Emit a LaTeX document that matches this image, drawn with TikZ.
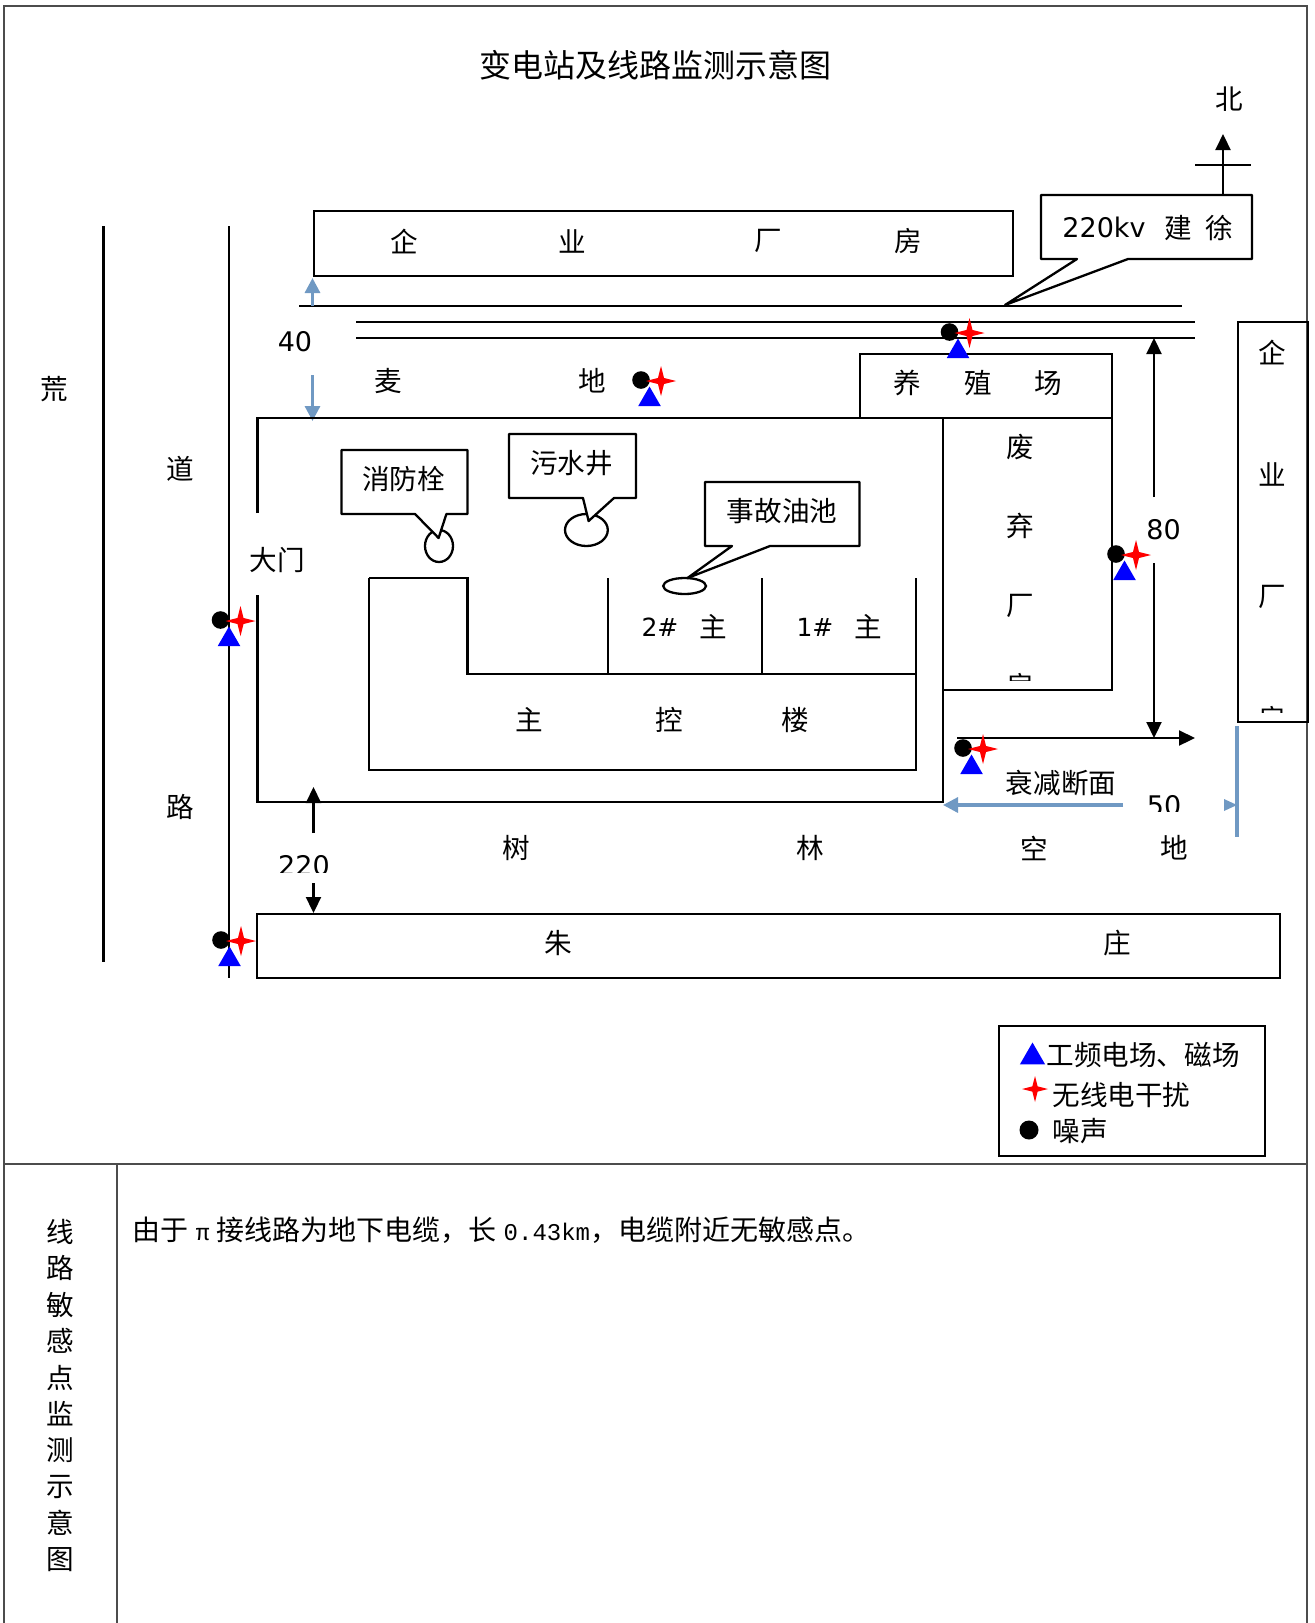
\documentclass[tikz,border=0pt]{standalone}
\usepackage{fontspec}
\setmainfont{Noto Sans CJK SC}
\newfontfamily\latinfont{DejaVu Sans}
\newfontfamily\monofont{Liberation Mono}
\usetikzlibrary{shapes.geometric}
\usetikzlibrary{positioning}
\usetikzlibrary{arrows.meta}
\definecolor{dimblue}{HTML}{7099C3}
\tikzstyle{cjk} = [inner sep=0pt, font=\fontsize{13.8}{16}\selectfont]
\tikzstyle{num} = [inner sep=0pt, font=\latinfont\fontsize{13.5}{16}\selectfont]
\tikzstyle{wall} = [draw, black, line width=1.15pt]
\tikzstyle{building} = [rectangle, draw, black, line width=1.15pt, inner sep=0pt, outer sep=0pt]
\tikzstyle{callbox} = [rectangle, inner sep=0pt, outer sep=0pt]
\tikzstyle{callout} = [draw, black, line width=1.15pt, fill=white, line join=round]
\tikzstyle{pit} = [ellipse, draw, black, line width=1.15pt, inner sep=0pt, fill=white]
\tikzstyle{frame} = [draw, black!70, line width=0.8pt]
\tikzstyle{dim arrow} = [black, line width=1.1pt, -{Triangle[length=8pt,width=7.5pt]}]
\tikzstyle{blue arrow} = [dimblue, line width=1.6pt, -{Triangle[length=7.5pt,width=7.5pt]}]
\tikzstyle{noise pt} = [circle, fill=black, inner sep=0pt, minimum size=8.8pt]
\tikzstyle{field pt} = [regular polygon, regular polygon sides=3, fill=blue, inner sep=0pt, minimum size=13pt]
\tikzstyle{radio pt} = [star, star points=4, star point ratio=3.5, fill=red, inner sep=0pt, minimum size=15pt]
\newcommand{\monitorpt}[3]{%
  \node[noise pt] (#1n) at (#2,#3) {};
  \node[radio pt] (#1r) at (#2+20,#3+1) {};
  \node[field pt] (#1f) at (#2+8.5,#3+19.5) {};
}
\begin{document}
\begin{tikzpicture}[x=0.5pt,y=-0.5pt]
  \useasboundingbox (0,0) rectangle (1314,1623);
  % outer table
  \draw[frame] (4,1623) -- (4,6) -- (1307,6) -- (1307,1623);
  \draw[frame] (4,1164) -- (1307,1164);
  \draw[frame] (117,1164) -- (117,1623);
  \node[cjk, font=\fontsize{16}{20}\selectfont] (title) at (655,65) {变电站及线路监测示意图};
  % north mark
  \node[cjk] (north) at (1229,99) {北};
  \draw[dim arrow] (1223,197) -- (1223,134);
  \draw[wall] (1195,165) -- (1251,165);
  % top factory
  \node[building, minimum width=349.5pt, minimum height=32.5pt] (factory) at (663.5,243.5) {};
  \node[cjk] (facA) at (404.5,241) {企};
  \node[cjk] (facB) at (572,241) {业};
  \node[cjk] (facC) at (768,241) {厂};
  \node[cjk] (facD) at (908,241) {房};
  % road
  \draw[wall] (103.5,226) -- (103.5,962);
  \draw[wall] (229,226) -- (229,978);
  \node[cjk] (wild) at (54,389) {荒};
  \node[cjk] (roadA) at (180,469) {道};
  \node[cjk] (roadB) at (180,807) {路};
  % lines north of the station
  \draw[wall] (299,306) -- (1181.5,306);
  \draw[wall] (356,322) -- (1195,322);
  \draw[wall] (356,338) -- (1195,338);
  % 220kv callout
  \node[callbox, minimum width=105.5pt, minimum height=32pt] (linebox) at (1146.5,227) {};
  \coordinate (linetip) at (1005,305);
  \draw[callout] (linebox.north west) -- (linebox.north east) -- (linebox.south east) -- (1128,259) -- (linetip) -- (1077,259) -- (linebox.south west) -- cycle;
  \node[num] (linekv) at (1104,227) {220kv};
  \node[cjk] (lineA) at (1178,228) {建};
  \node[cjk] (lineB) at (1219,228) {徐};
  % 40 dimension
  \draw[blue arrow] (312.5,306) -- (312.5,278);
  \draw[blue arrow] (312.5,375) -- (312.5,421);
  \node[num] (dimforty) at (295,342) {40};
  \node[cjk] (wheatA) at (388,381) {麦};
  \node[cjk] (wheatB) at (592,381) {地};
  % station wall
  \draw[wall] (257.5,513) -- (257.5,418) -- (1112,418);
  \draw[wall] (257.5,595) -- (257.5,802) -- (943,802) -- (943,418);
  \node[cjk] (gate) at (277,560) {大门};
  % breeding farm and waste plant
  \node[building, minimum width=126pt, minimum height=32pt] (farm) at (986,386) {};
  \node[cjk] (farmA) at (907.5,383) {养};
  \node[cjk] (farmB) at (978,383) {殖};
  \node[cjk] (farmC) at (1048,383) {场};
  \node[building, minimum width=84.5pt, minimum height=136pt] (waste) at (1027.5,554) {};
  \node[cjk] (wasteA) at (1020,447) {废};
  \node[cjk] (wasteB) at (1020,526) {弃};
  \node[cjk] (wasteC) at (1020,606) {厂};
  \begin{scope}
    \clip (950,600) rectangle (1100,680);
    \node[cjk] (wasteD) at (1020,686) {房};
  \end{scope}
  % east factory
  \node[building, minimum width=35pt, minimum height=200pt] (eastfac) at (1273,522) {};
  \node[cjk] (eastA) at (1272.5,352) {企};
  \node[cjk] (eastB) at (1272.5,474) {业};
  \node[cjk] (eastC) at (1272.5,596.5) {厂};
  \begin{scope}
    \clip (1245,650) rectangle (1300,712);
    \node[cjk] (eastD) at (1272.5,719) {房};
  \end{scope}
  % main building
  \draw[wall] (369,578) -- (467.5,578) -- (467.5,674) -- (916,674);
  \draw[wall] (369,578) -- (369,770) -- (916,770) -- (916,578);
  \draw[wall] (608,578) -- (608,674);
  \draw[wall] (762,578) -- (762,674);
  \node[num, font=\latinfont\fontsize{12.5}{16}\selectfont] (unitB) at (660,627) {2\#};
  \node[cjk] (unitBm) at (713.5,627) {主};
  \node[num, font=\latinfont\fontsize{12.5}{16}\selectfont] (unitA) at (815,627) {1\#};
  \node[cjk] (unitAm) at (868,627) {主};
  \node[cjk] (mainA) at (529.5,720) {主};
  \node[cjk] (mainB) at (669.5,720) {控};
  \node[cjk] (mainC) at (795.5,720) {楼};
  % pits and their callouts
  \node[pit, minimum width=14pt, minimum height=16pt] (hydrant) at (439,546) {};
  \node[callbox, minimum width=63pt, minimum height=32pt] (hydrantbox) at (404.5,482) {};
  \coordinate (hydranttip) at (438.6,538);
  \draw[callout] (hydrantbox.north west) -- (hydrantbox.north east) -- (hydrantbox.south east) -- (446.4,514) -- (hydranttip) -- (415,514) -- (hydrantbox.south west) -- cycle;
  \node[cjk] (hydranttext) at (403.6,479) {消防栓};
  \node[pit, minimum width=21.4pt, minimum height=16pt] (sewer) at (586.4,530) {};
  \node[callbox, minimum width=63.5pt, minimum height=32pt] (sewerbox) at (572.5,466) {};
  \coordinate (sewertip) at (588.6,521);
  \draw[callout] (sewerbox.north west) -- (sewerbox.north east) -- (sewerbox.south east) -- (614,498) -- (sewertip) -- (583,498) -- (sewerbox.south west) -- cycle;
  \node[cjk] (sewertext) at (571.5,463) {污水井};
  \node[pit, minimum width=21.4pt, minimum height=8pt] (oilpit) at (684.6,586) {};
  \node[callbox, minimum width=77.25pt, minimum height=32pt] (oilbox) at (782.25,514) {};
  \coordinate (oiltip) at (687.5,578);
  \draw[callout] (oilbox.north west) -- (oilbox.north east) -- (oilbox.south east) -- (770,546) -- (oiltip) -- (732,546) -- (oilbox.south west) -- cycle;
  \node[cjk] (oiltext) at (782,511) {事故油池};
  % attenuation section
  \draw[dim arrow] (957,738) -- (1195,738);
  \draw[dim arrow] (1154,497) -- (1154,338);
  \draw[dim arrow] (1154,563) -- (1154,738);
  \node[num] (dimeighty) at (1163.5,530) {80};
  \node[cjk] (section) at (1061,783) {衰减断面};
  \draw[blue arrow] (1123,805) -- (943,805);
  \draw[dimblue, line width=1.6pt] (1237,726) -- (1237,837);
  \fill[dimblue] (1224,799) -- (1237,805) -- (1224,811) -- cycle;
  \begin{scope}
    \clip (1130,780) rectangle (1200,811);
    \node[num] (dimfifty) at (1164,806) {50};
  \end{scope}
  % south side
  \node[cjk] (treeA) at (516,848) {树};
  \node[cjk] (treeB) at (810,848) {林};
  \node[cjk] (treeC) at (1034,848) {空};
  \node[cjk] (treeD) at (1174,848) {地};
  \draw[dim arrow] (313.5,833) -- (313.5,787);
  \draw[dim arrow] (313.5,883) -- (313.5,913);
  \begin{scope}
    \clip (270,840) rectangle (340,872);
    \node[num] (dimtwotwenty) at (304,866) {220};
  \end{scope}
  \node[building, minimum width=511.5pt, minimum height=32pt] (village) at (768.5,946) {};
  \node[cjk] (villageA) at (558,943) {朱};
  \node[cjk] (villageB) at (1117,943) {庄};
  % monitoring points
  \monitorpt{wheat}{641}{380}
  \monitorpt{gatept}{220.5}{620}
  \monitorpt{wire}{949.5}{332}
  \monitorpt{east}{1116}{554}
  \monitorpt{sect}{963}{748}
  \monitorpt{south}{221}{940}
  % legend
  \node[building, minimum width=133pt, minimum height=65pt] (legend) at (1132,1091) {};
  \node[field pt, minimum size=14.5pt] (legfield) at (1032.5,1057) {};
  \node[cjk, anchor=west] (legfieldtext) at (1046,1055) {工频电场、磁场};
  \node[radio pt, minimum size=13pt] (legradio) at (1035,1089) {};
  \node[cjk, anchor=west] (legradiotext) at (1052,1095) {无线电干扰};
  \node[noise pt, minimum size=9.5pt] (legnoise) at (1029,1130) {};
  \node[cjk, anchor=west] (legnoisetext) at (1052,1131) {噪声};
  % line part of the table
  \foreach \ch [count=\i from 0] in {线,路,敏,感,点,监,测,示,意,图}
    \node[cjk] (side\i) at (60,1232+36.4*\i) {\ch};
  \node[cjk, anchor=west, font=\fontsize{14}{16}\selectfont] (note) at (132.5,1230) {由于\hspace{3.5pt}{\monofont\fontsize{11.5}{16}\selectfont π}\hspace{3.5pt}接线路为地下电缆，长\hspace{3.5pt}{\monofont\fontsize{12}{16}\selectfont 0.43km}，电缆附近无敏感点。};
\end{tikzpicture}
\end{document}
